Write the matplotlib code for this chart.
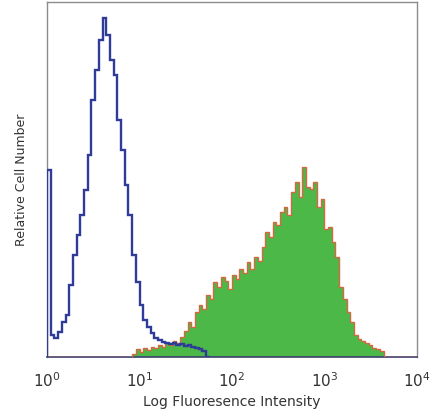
import numpy as np
import matplotlib
matplotlib.use("Agg")
import matplotlib.pyplot as plt

# histogram channels: 0.04 decade wide, starting at 10^0
bin_width_decades = 0.04
n_bins = 100

# control (blue) histogram, starting at channel 0
control_counts = [187, 22, 19, 25, 35, 42, 72, 102, 122, 142,
                  167, 202, 257, 287, 317, 339, 322, 297, 282, 237,
                  207, 172, 142, 102, 75, 52, 37, 30, 24, 19,
                  17, 15, 14, 13, 14, 12, 13, 11, 12, 10,
                  9, 8, 6, 0]
control_start = 0

# stained (green) histogram, starting at channel 23
stained_counts = [3, 8, 5, 9, 7, 10, 9, 12, 10, 14,
                  12, 16, 14, 20, 26, 35, 30, 45, 52, 48,
                  62, 58, 75, 70, 80, 76, 68, 82, 78, 88,
                  84, 95, 88, 100, 96, 110, 125, 120, 135, 132,
                  145, 150, 142, 165, 175, 160, 190, 170, 168, 175,
                  150, 158, 128, 130, 115, 100, 70, 58, 45, 35,
                  22, 18, 16, 14, 12, 9, 8, 6]
stained_start = 23

xtick_labels = [r"$10^{0}$", r"$10^{1}$", r"$10^{2}$", r"$10^{3}$", r"$10^{4}$"]
xlabel = "Log Fluoresence Intensity"
ylabel = "Relative Cell Number"

edges = 10 ** (bin_width_decades * np.arange(n_bins + 1))

def full(counts, start):
    v = np.zeros(n_bins)
    v[start:start + len(counts)] = counts
    return v

green = full(stained_counts, stained_start)

fig = plt.figure(figsize=(4.36, 4.16), dpi=100)
ax = fig.add_axes([0.108, 0.142, 0.848, 0.853])

ax.stairs(green, edges, fill=True, color="#4cb848", linewidth=0, zorder=2)
ax.stairs(green, edges, color="#d4693f", linewidth=1.0, zorder=3)

b0 = control_start
b1 = control_start + len(control_counts)
ax.stairs(np.array(control_counts, dtype=float), edges[b0:b1 + 1],
          color="#2e3b98", linewidth=1.7, baseline=0, zorder=4)

ax.set_xscale("log")
ax.set_xlim(1, 1e4)
ax.set_ylim(0, 355)
ax.set_xticks([1, 10, 100, 1000, 10000])
ax.set_xticklabels(xtick_labels, fontsize=11, color="#333333")
ax.minorticks_off()
ax.tick_params(axis="x", length=0, pad=10)
ax.set_yticks([])
ax.set_xlabel(xlabel, fontsize=10, color="#333333", labelpad=4)
ax.set_ylabel(ylabel, fontsize=9, color="#333333", labelpad=14)

for s in ["top", "right", "left"]:
    ax.spines[s].set_color("#8c8c8c")
    ax.spines[s].set_linewidth(1.0)
ax.spines["bottom"].set_color("#3a3f6e")
ax.spines["bottom"].set_linewidth(1.2)

fig.savefig("out.png", dpi=100)
